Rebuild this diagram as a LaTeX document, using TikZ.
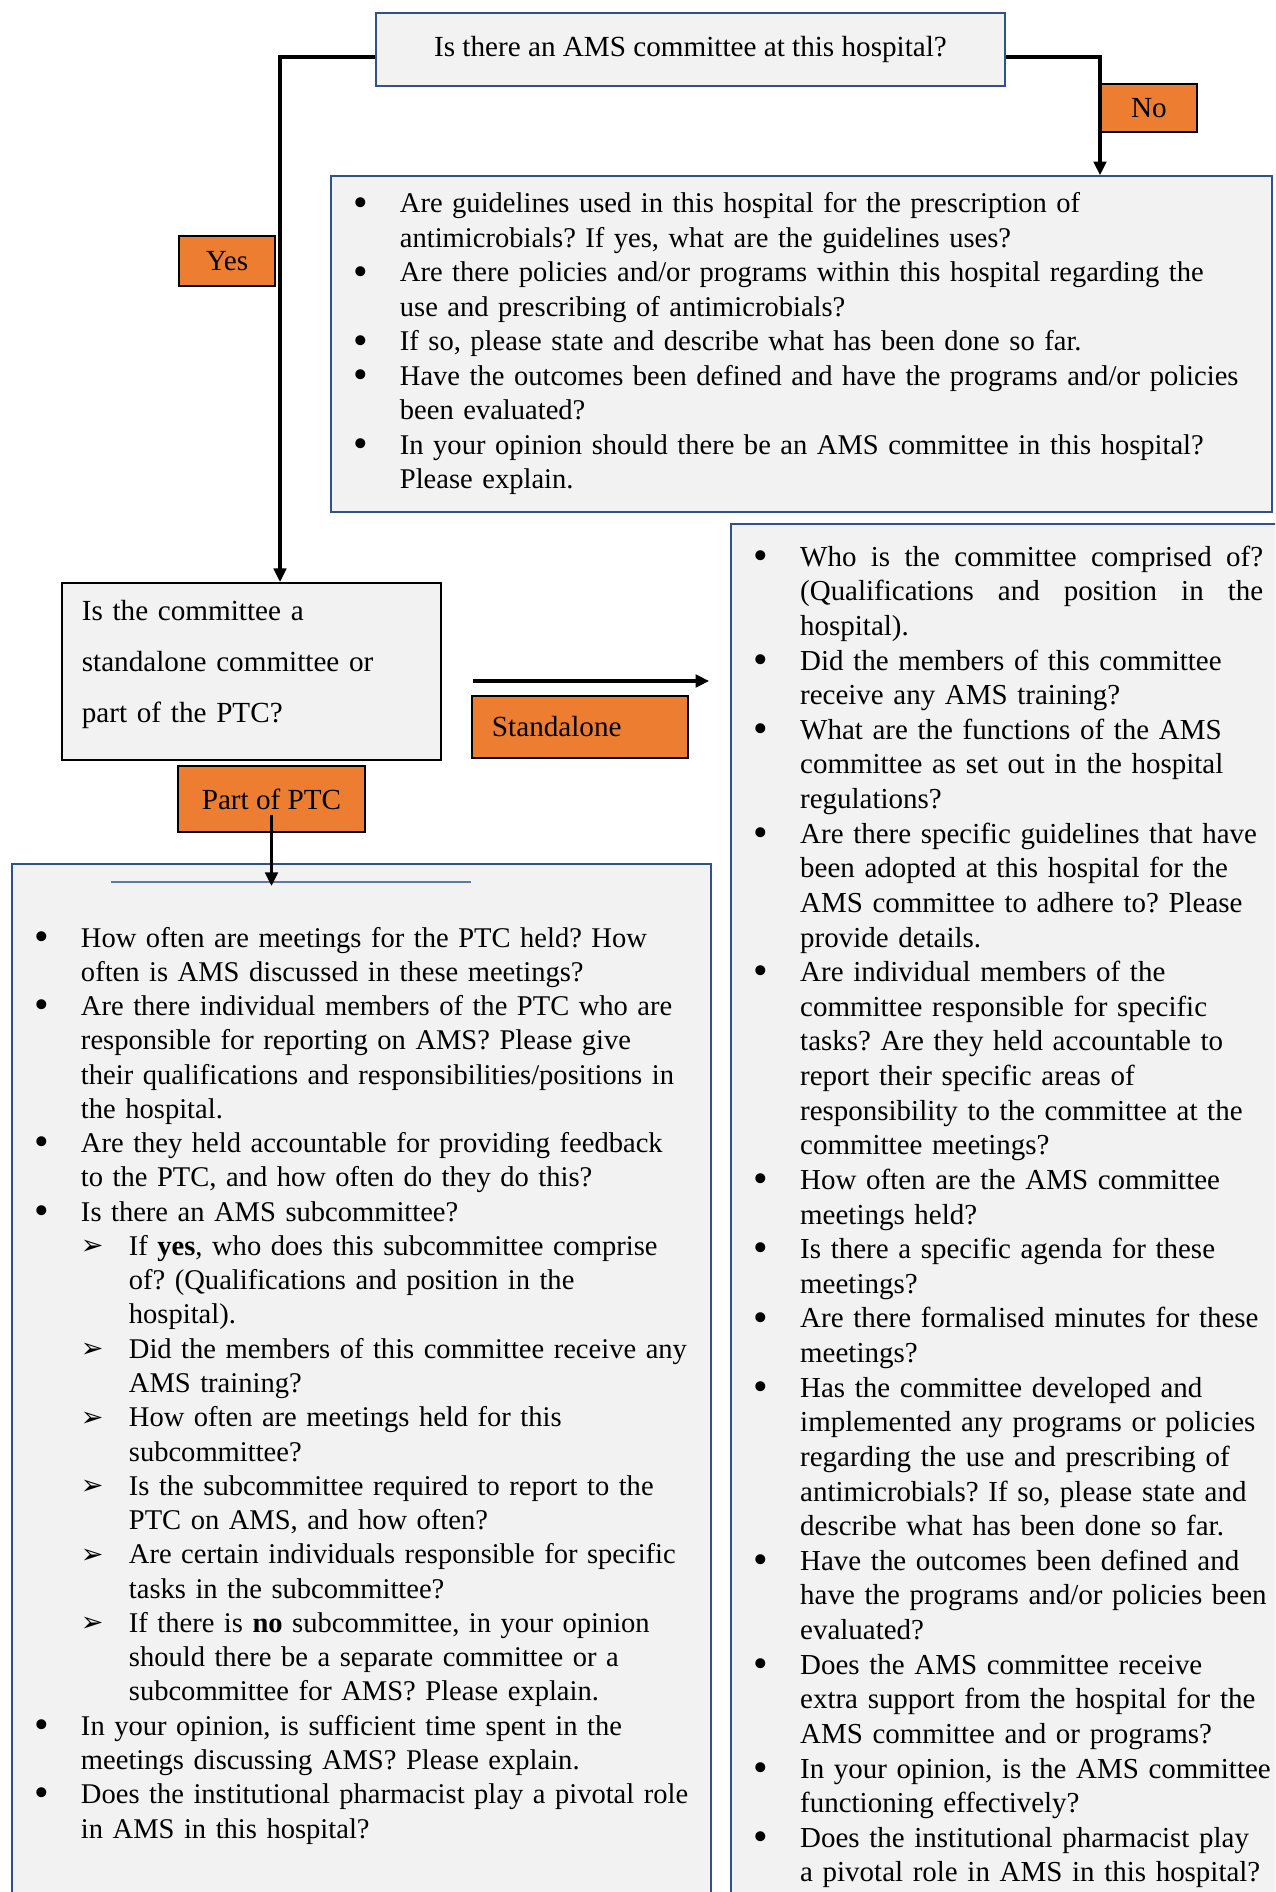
\documentclass[tikz,border=0pt]{standalone}
\usepackage{fontspec}
\setmainfont{Liberation Serif}
\newfontfamily\dejavu{DejaVu Sans}
\usepackage{xcolor}
\usepackage{tikz}
\usetikzlibrary{arrows.meta,positioning,calc}
\definecolor{boxfill}{HTML}{F2F2F2}
\definecolor{boxline}{HTML}{2F528F}
\definecolor{tagfill}{HTML}{ED7D31}
\definecolor{rulecol}{HTML}{5B7BA6}
\frenchspacing
\newcommand{\bl}{\raisebox{-1.5pt}{\fontsize{20}{20}\selectfont\textbullet}}
\newcommand{\subarr}{\makebox[23pt][l]{\raisebox{0.3pt}{\dejavu\fontsize{13}{13}\selectfont ➢}}}
\newcommand{\subind}{\hspace*{23pt}}
\newcommand{\jline}[1]{\hbox to 222.2pt{#1}}

\begin{document}
\begin{tikzpicture}[x=0.48pt,y=-0.48pt,>=Latex]
  \tikzstyle{qbox}=[draw=boxline,line width=1pt,fill=boxfill,inner ysep=6pt,inner xsep=11pt,align=left]
  \tikzstyle{tag}=[draw=black,line width=0.6pt,fill=tagfill,inner sep=0pt,font=\fontsize{14}{16}\selectfont]
  \tikzstyle{conn}=[line width=1.5pt,-{Triangle[length=6.5pt,width=6pt]}]
  \useasboundingbox (0,0) rectangle (1275,1892);
  \fill[white] (0,0) rectangle (1275,1892);
  \clip (0,0) rectangle (1275,1892);

  \node[qbox,minimum width=301.9pt,minimum height=35pt,inner sep=0pt,align=center,font=\fontsize{14}{16}\selectfont] (ams) at (690.5,49.5) {Is there an AMS committee at this hospital?};

  \node[qbox,text width=429.7pt,font=\fontsize{13.7}{16.56}\selectfont] (nobr) at (801.5,344) {%
    \begin{tabular}{@{}p{22.1pt}@{}l@{}}
      \bl & Are guidelines used in this hospital for the prescription of\\
          & antimicrobials? If yes, what are the guidelines uses?\\
      \bl & Are there policies and/or programs within this hospital regarding the\\
          & use and prescribing of antimicrobials?\\
      \bl & If so, please state and describe what has been done so far.\\
      \bl & Have the outcomes been defined and have the programs and/or policies\\
          & been evaluated?\\
      \bl & In your opinion should there be an AMS committee in this hospital?\\
          & Please explain.
    \end{tabular}};

  \node[draw=black,line width=0.8pt,fill=boxfill,anchor=north west,inner xsep=9.6pt,inner ysep=8.2pt,text width=162.7pt,align=left,font=\fontsize{14}{24.5}\selectfont] (kind) at (61,582)
    {Is the committee a\\standalone committee or\\part of the PTC?\rule[-10pt]{0pt}{10pt}};

  \node[qbox,anchor=north west,inner xsep=10.6pt,inner ysep=8.6pt,text width=261.6pt,font=\fontsize{13.9}{16.62}\selectfont] (alone) at (730,523) {%
    \begin{tabular}{@{}p{22.6pt}@{}l@{}}
      \bl & \jline{Who\hfill is\hfill the\hfill committee\hfill comprised\hfill of?}\\
          & \jline{(Qualifications\hfill and\hfill position\hfill in\hfill the}\\
          & hospital).\\
      \bl & Did the members of this committee\\
          & receive any AMS training?\\
      \bl & What are the functions of the AMS\\
          & committee as set out in the hospital\\
          & regulations?\\
      \bl & Are there specific guidelines that have\\
          & been adopted at this hospital for the\\
          & AMS committee to adhere to? Please\\
          & provide details.\\
      \bl & Are individual members of the\\
          & committee responsible for specific\\
          & tasks? Are they held accountable to\\
          & report their specific areas of\\
          & responsibility to the committee at the\\
          & committee meetings?\\
      \bl & How often are the AMS committee\\
          & meetings held?\\
      \bl & Is there a specific agenda for these\\
          & meetings?\\
      \bl & Are there formalised minutes for these\\
          & meetings?\\
      \bl & Has the committee developed and\\
          & implemented any programs or policies\\
          & regarding the use and prescribing of\\
          & antimicrobials? If so, please state and\\
          & describe what has been done so far.\\
      \bl & Have the outcomes been defined and\\
          & have the programs and/or policies been\\
          & evaluated?\\
      \bl & Does the AMS committee receive\\
          & extra support from the hospital for the\\
          & AMS committee and or programs?\\
      \bl & In your opinion, is the AMS committee\\
          & functioning effectively?\\
      \bl & Does the institutional pharmacist play\\
          & a pivotal role in AMS in this hospital?
    \end{tabular}};

  \node[qbox,anchor=north west,inner xsep=11pt,inner ysep=28.3pt,text width=313.4pt,font=\fontsize{13.7}{16.45}\selectfont] (part) at (11,863) {%
    \begin{tabular}{@{}p{22.1pt}@{}l@{}}
      \bl & How often are meetings for the PTC held? How\\
          & often is AMS discussed in these meetings?\\
      \bl & Are there individual members of the PTC who are\\
          & responsible for reporting on AMS? Please give\\
          & their qualifications and responsibilities/positions in\\
          & the hospital.\\
      \bl & Are they held accountable for providing feedback\\
          & to the PTC, and how often do they do this?\\
      \bl & Is there an AMS subcommittee?\\
          & \subarr If \textbf{yes}, who does this subcommittee comprise\\
          & \subind of? (Qualifications and position in the\\
          & \subind hospital).\\
          & \subarr Did the members of this committee receive any\\
          & \subind AMS training?\\
          & \subarr How often are meetings held for this\\
          & \subind subcommittee?\\
          & \subarr Is the subcommittee required to report to the\\
          & \subind PTC on AMS, and how often?\\
          & \subarr Are certain individuals responsible for specific\\
          & \subind tasks in the subcommittee?\\
          & \subarr If there is \textbf{no} subcommittee, in your opinion\\
          & \subind should there be a separate committee or a\\
          & \subind subcommittee for AMS? Please explain.\\
      \bl & In your opinion, is sufficient time spent in the\\
          & meetings discussing AMS? Please explain.\\
      \bl & Does the institutional pharmacist play a pivotal role\\
          & in AMS in this hospital?
    \end{tabular}};
  \draw[rulecol,line width=0.8pt] (111,882) -- (471,882);

  \node[tag,minimum width=46.1pt,minimum height=24pt] (yes) at (227,261) {Yes};
  \node[tag,minimum width=46.1pt,minimum height=23pt] (no) at (1149,108) {No};
  \node[tag,minimum width=103.7pt,minimum height=29.8pt,text width=84.5pt,align=left] (sa) at (580,727) {Standalone};
  \node[tag,minimum width=89.8pt,minimum height=31.7pt] (ptc) at (271.5,799) {Part of PTC};

  \coordinate (ybend) at (280,57);
  \coordinate (nbend) at (1100,57);
  \coordinate (sarow) at (0,681);
  \coordinate (ruletip) at (271.5,886);
  \draw[conn] (ams.west |- ybend) -- (ybend) -- (ybend |- kind.north);
  \draw[conn] (ams.east |- nbend) -- (nbend) -- (nbend |- nobr.north);
  \draw[conn,line width=2pt,shorten <=14.9pt,shorten >=10pt] (kind.east |- sarow) -- (alone.west |- sarow);
  \draw[conn] ([yshift=-7.5pt]ptc.center) -- (ruletip);
\end{tikzpicture}
\end{document}
